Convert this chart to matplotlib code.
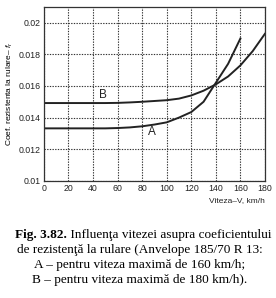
import matplotlib

matplotlib.use("Agg")
import matplotlib.pyplot as plt

# speed, km/h
speed_a = [0, 10, 20, 30, 40, 50, 60, 70, 80, 90, 100, 110, 120, 130, 140, 150, 160]
speed_b = [0, 10, 20, 30, 40, 50, 60, 70, 80, 90, 100, 110, 120, 130, 140, 150, 160, 170, 180]
# rolling resistance coefficient
fr_a = [0.01332, 0.01332, 0.01332, 0.01332, 0.01332, 0.01332, 0.01334, 0.01338, 0.01345,
        0.01356, 0.0137, 0.0140, 0.01435, 0.0150, 0.0162, 0.0174, 0.0190]
fr_b = [0.01492, 0.01492, 0.01492, 0.01492, 0.01492, 0.01492, 0.01493, 0.01496, 0.0150,
        0.01505, 0.0151, 0.0152, 0.0154, 0.0157, 0.0161, 0.0166, 0.0173, 0.0182, 0.0193]

x_ticks = [0, 20, 40, 60, 80, 100, 120, 140, 160, 180]
y_ticks = [0.01, 0.012, 0.014, 0.016, 0.018, 0.02]
y_tick_labels = ["0.01", "0.012", "0.014", "0.016", "0.018", "0.02"]

caption_head = "Fig. 3.82."
caption_first = " Influenţa vitezei asupra coeficientului"
caption_lines = [
    "de rezistenţă la rulare (Anvelope 185/70 R 13:",
    "A – pentru viteza maximă de 160 km/h;",
    "B – pentru viteza maximă de 180 km/h).",
]

plt.rcParams["font.family"] = ["Liberation Sans", "DejaVu Sans"]
plt.rcParams["mathtext.fontset"] = "custom"
plt.rcParams["mathtext.it"] = "Liberation Sans:italic"

fig = plt.figure(figsize=(2.76, 2.98), dpi=100)
ax = fig.add_axes([0.159, 0.393, 0.801, 0.584])

line_color = "#222222"
ax.plot(speed_a, fr_a, color=line_color, lw=1.4)
ax.plot(speed_b, fr_b, color=line_color, lw=1.4)
ax.text(48, 0.01545, "B", fontsize=8.5, ha="center", va="center", color=line_color)
ax.text(88, 0.0131, "A", fontsize=8.5, ha="center", va="center", color=line_color)

ax.set_xlim(0, 180)
ax.set_ylim(0.01, 0.021)
ax.set_xticks(x_ticks)
ax.set_yticks(y_ticks)
ax.set_yticklabels(y_tick_labels)
ax.tick_params(length=0, labelsize=6.3, pad=2, colors="#222")
ax.grid(True, color="#333", linestyle=(0, (1.2, 1.2)), linewidth=0.8)
for sp in ax.spines.values():
    sp.set_linewidth(0.9)
    sp.set_color("#333")

ax.set_ylabel(r"Coef. rezistenta la rulare– $f_r$", fontsize=6, labelpad=3)
ax.text(1.0, -0.095, "Viteza–V, km/h", transform=ax.transAxes, fontsize=6,
        ha="right", va="top", color="#222")

# caption: bold figure number followed by regular text, centred as one line
serif = ["Liberation Serif", "DejaVu Serif"]
cap_size = 9.5
y0 = 0.212
head = fig.text(0, y0, caption_head, ha="left", va="baseline", fontsize=cap_size,
                family=serif, weight="bold")
rest = fig.text(0, y0, caption_first, ha="left", va="baseline", fontsize=cap_size,
                family=serif)
fig.canvas.draw()
r = fig.canvas.get_renderer()
w_head = head.get_window_extent(r).width / fig.bbox.width
w_rest = rest.get_window_extent(r).width / fig.bbox.width
x_start = 0.52 - (w_head + w_rest) / 2
y_base = y0 - 0.012
head.set_position((x_start, y_base))
rest.set_position((x_start + w_head, y_base))

for i, line in enumerate(caption_lines):
    fig.text(0.505, y0 - 0.05 * (i + 1), line, ha="center", va="center",
             fontsize=cap_size, family=serif)

fig.savefig("out.png", dpi=100)
